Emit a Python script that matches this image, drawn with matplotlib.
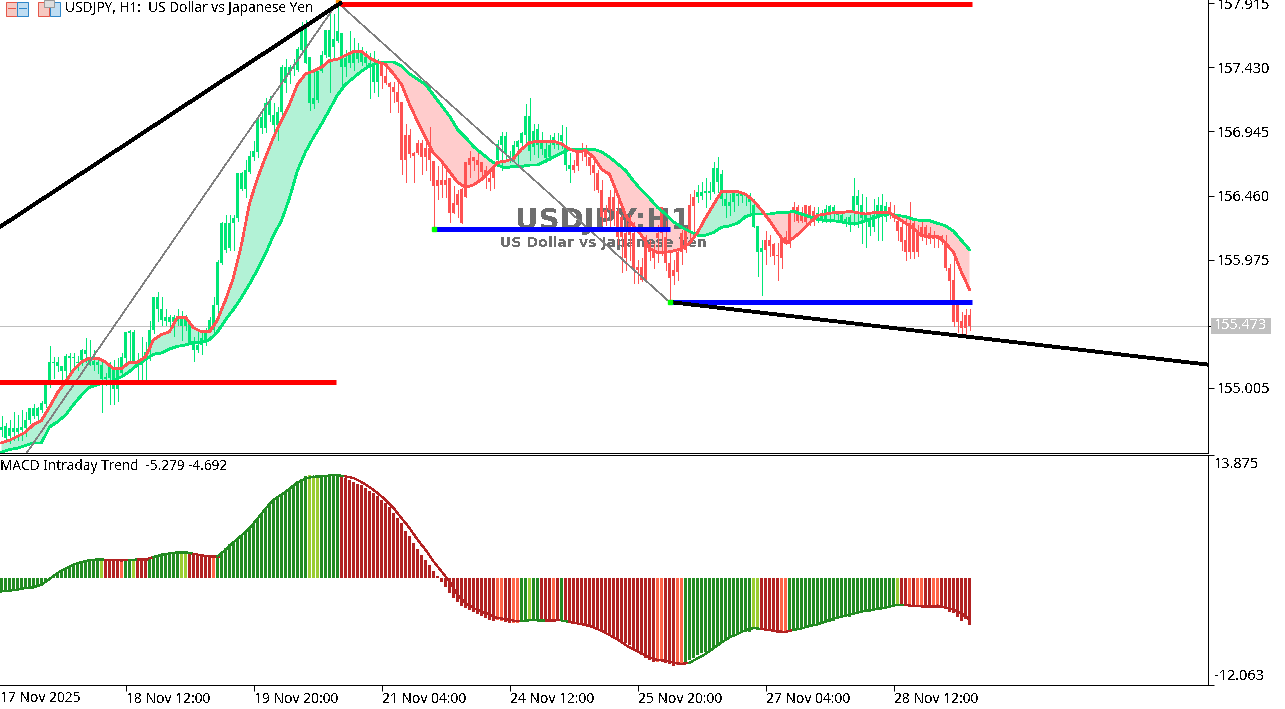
"""USDJPY H1 chart with MA cloud, zigzag levels and a MACD panel below."""

import matplotlib

matplotlib.use("Agg")

import matplotlib.pyplot as plt
import numpy as np
from matplotlib.patches import Rectangle

W_PX, H_PX = 1285, 709
AXIS_X = 1208
MAIN_BOTTOM = 452.5
SUB_TOP, SUB_BOTTOM = 455, 685

opens = [
    154.69, 154.63, 154.64, 154.67, 154.67, 154.69, 154.70, 154.76, 154.79, 154.79,
    154.84, 154.88, 155.04, 155.19, 155.17, 155.13, 155.13, 155.23, 155.23, 155.19,
    155.22, 155.26, 155.18, 155.18, 155.18, 155.07, 155.07, 155.08, 155.00, 155.00,
    155.12, 155.23, 155.42, 155.20, 155.18, 155.18, 155.23, 155.28, 155.44, 155.60,
    155.52, 155.51, 155.50, 155.50, 155.51, 155.47, 155.47, 155.35, 155.29, 155.29,
    155.33, 155.37, 155.44, 155.44, 155.63, 155.95, 156.05, 156.06, 156.25, 156.29,
    156.51, 156.51, 156.64, 156.75, 156.79, 156.97, 156.97, 157.07, 156.99, 156.99,
    157.09, 157.31, 157.37, 157.42, 157.41, 157.56, 157.46, 157.16, 157.15, 157.18,
    157.40, 157.52, 157.51, 157.58, 157.63, 157.43, 157.43, 157.46, 157.46, 157.49,
    157.47, 157.46, 157.43, 157.32, 157.32, 157.46, 157.36, 157.31, 157.28, 157.24,
    157.17, 156.92, 156.92, 156.78, 156.86, 156.86, 156.82, 156.82, 156.72, 156.58,
    156.58, 156.58, 156.59, 156.40, 156.47, 156.51, 156.71, 156.74, 156.75, 156.73,
    156.71, 156.65, 156.59, 156.67, 156.73, 156.84, 156.77, 156.75, 156.75, 156.83,
    156.86, 156.92, 156.80, 156.83, 156.84, 156.81, 156.74, 156.75, 156.84, 156.84,
    156.87, 156.69, 156.66, 156.69, 156.78, 156.80, 156.79, 156.75, 156.69, 156.63,
    156.50, 156.35, 156.45, 156.45, 156.34, 156.30, 156.18, 156.25, 156.18, 155.92,
    155.92, 156.15, 156.09, 156.05, 156.18, 156.37, 156.15, 155.95, 155.90, 156.03,
    156.18, 156.20, 156.39, 156.45, 156.45, 156.46, 156.48, 156.48, 156.49, 156.56,
    156.43, 156.38, 156.38, 156.41, 156.46, 156.46, 156.46, 156.41, 156.22, 156.03,
    156.03, 156.12, 156.12, 156.09, 156.01, 156.14, 156.15, 156.33, 156.37, 156.37,
    156.31, 156.39, 156.38, 156.34, 156.30, 156.27, 156.27, 156.33, 156.33, 156.31,
    156.27, 156.27, 156.26, 156.33, 156.39, 156.29, 156.26, 156.22, 156.22, 156.31,
    156.33, 156.30, 156.37, 156.33, 156.27, 156.22, 156.12, 156.25, 156.25, 156.19,
    156.22, 156.22, 156.18, 156.15, 156.16, 156.15, 156.10, 155.91, 155.82, 155.63,
    155.51, 155.56, 155.56,
]
closes = [
    154.71, 154.72, 154.70, 154.70, 154.70, 154.71, 154.76, 154.85, 154.85, 154.85,
    154.89, 155.03, 155.20, 155.20, 155.20, 155.17, 155.25, 155.25, 155.24, 155.20,
    155.29, 155.29, 155.22, 155.21, 155.20, 155.18, 155.09, 155.17, 155.15, 155.14,
    155.24, 155.43, 155.43, 155.43, 155.20, 155.20, 155.28, 155.44, 155.69, 155.69,
    155.60, 155.54, 155.54, 155.54, 155.54, 155.54, 155.54, 155.50, 155.35, 155.33,
    155.38, 155.42, 155.52, 155.63, 155.96, 156.25, 156.25, 156.25, 156.29, 156.63,
    156.63, 156.65, 156.76, 156.80, 157.04, 157.05, 157.16, 157.16, 157.07, 157.09,
    157.43, 157.43, 157.43, 157.43, 157.57, 157.71, 157.74, 157.51, 157.20, 157.40,
    157.52, 157.71, 157.71, 157.64, 157.70, 157.69, 157.50, 157.52, 157.55, 157.55,
    157.55, 157.51, 157.46, 157.46, 157.47, 157.36, 157.31, 157.28, 157.24, 157.17,
    156.73, 156.73, 156.77, 156.76, 156.78, 156.75, 156.75, 156.73, 156.53, 156.53,
    156.54, 156.54, 156.33, 156.33, 156.39, 156.25, 156.45, 156.69, 156.72, 156.69,
    156.64, 156.59, 156.56, 156.59, 156.85, 156.91, 156.91, 156.76, 156.84, 156.87,
    156.93, 157.06, 157.06, 156.95, 156.96, 156.87, 156.81, 156.84, 156.90, 156.87,
    156.92, 156.84, 156.69, 156.65, 156.68, 156.78, 156.75, 156.68, 156.63, 156.50,
    156.30, 156.29, 156.35, 156.34, 156.15, 156.15, 155.99, 156.16, 155.90, 155.90,
    155.82, 155.82, 156.03, 155.99, 156.14, 156.18, 155.95, 155.84, 155.85, 155.88,
    156.03, 156.05, 156.18, 156.38, 156.49, 156.49, 156.49, 156.49, 156.67, 156.67,
    156.62, 156.43, 156.41, 156.48, 156.47, 156.47, 156.47, 156.43, 156.39, 156.23,
    156.06, 156.05, 156.08, 156.00, 156.00, 155.99, 156.11, 156.09, 156.33, 156.27,
    156.27, 156.26, 156.29, 156.26, 156.33, 156.31, 156.36, 156.38, 156.37, 156.32,
    156.31, 156.28, 156.30, 156.46, 156.46, 156.39, 156.33, 156.27, 156.31, 156.39,
    156.39, 156.38, 156.31, 156.29, 156.19, 156.11, 156.03, 156.03, 156.03, 156.03,
    156.15, 156.14, 156.13, 156.13, 156.13, 156.14, 155.91, 155.81, 155.50, 155.50,
    155.46, 155.46, 155.47,
]
highs = [
    154.79, 154.74, 154.76, 154.82, 154.80, 154.84, 154.82, 154.85, 154.88, 154.86,
    154.91, 155.03, 155.32, 155.24, 155.24, 155.17, 155.26, 155.27, 155.27, 155.25,
    155.30, 155.38, 155.37, 155.29, 155.22, 155.20, 155.12, 155.20, 155.22, 155.23,
    155.27, 155.43, 155.44, 155.44, 155.27, 155.39, 155.35, 155.51, 155.69, 155.73,
    155.69, 155.60, 155.56, 155.56, 155.60, 155.59, 155.56, 155.50, 155.39, 155.44,
    155.44, 155.46, 155.54, 155.69, 155.97, 156.26, 156.31, 156.31, 156.31, 156.63,
    156.64, 156.73, 156.80, 156.87, 157.05, 157.11, 157.20, 157.21, 157.16, 157.13,
    157.45, 157.49, 157.45, 157.49, 157.58, 157.77, 157.79, 157.51, 157.40, 157.40,
    157.55, 157.71, 157.83, 157.83, 157.90, 157.69, 157.56, 157.70, 157.65, 157.61,
    157.58, 157.55, 157.54, 157.55, 157.49, 157.47, 157.43, 157.32, 157.32, 157.31,
    157.17, 157.00, 156.96, 156.79, 156.88, 156.88, 156.88, 156.98, 156.72, 156.68,
    156.71, 156.67, 156.59, 156.53, 156.50, 156.52, 156.71, 156.80, 156.75, 156.80,
    156.71, 156.68, 156.67, 156.71, 156.88, 156.94, 156.94, 156.80, 156.87, 156.88,
    156.94, 157.15, 157.20, 157.00, 157.00, 156.94, 156.88, 156.92, 156.93, 156.93,
    156.99, 156.98, 156.78, 156.73, 156.80, 156.86, 156.84, 156.77, 156.73, 156.65,
    156.58, 156.39, 156.50, 156.53, 156.47, 156.31, 156.31, 156.31, 156.26, 155.97,
    155.99, 156.16, 156.12, 156.09, 156.24, 156.37, 156.27, 156.05, 155.97, 156.05,
    156.20, 156.22, 156.47, 156.50, 156.54, 156.56, 156.59, 156.56, 156.71, 156.75,
    156.65, 156.49, 156.47, 156.49, 156.49, 156.48, 156.48, 156.48, 156.43, 156.23,
    156.12, 156.19, 156.16, 156.10, 156.10, 156.14, 156.19, 156.33, 156.41, 156.39,
    156.37, 156.39, 156.39, 156.37, 156.37, 156.35, 156.39, 156.39, 156.39, 156.34,
    156.34, 156.30, 156.31, 156.59, 156.50, 156.47, 156.45, 156.31, 156.43, 156.45,
    156.47, 156.41, 156.41, 156.39, 156.31, 156.27, 156.31, 156.41, 156.29, 156.24,
    156.27, 156.24, 156.22, 156.19, 156.16, 156.16, 156.16, 155.94, 155.99, 155.67,
    155.58, 155.60, 155.60,
]
lows = [
    154.64, 154.61, 154.59, 154.61, 154.61, 154.61, 154.64, 154.74, 154.78, 154.76,
    154.82, 154.86, 155.01, 155.08, 155.13, 155.04, 155.04, 155.12, 155.14, 155.14,
    155.18, 155.20, 155.18, 155.14, 155.12, 154.82, 155.03, 154.88, 154.88, 154.91,
    155.09, 155.20, 155.22, 155.19, 155.07, 155.07, 155.07, 155.22, 155.42, 155.51,
    155.48, 155.48, 155.47, 155.40, 155.48, 155.37, 155.44, 155.35, 155.21, 155.28,
    155.26, 155.33, 155.43, 155.43, 155.54, 155.94, 156.03, 156.05, 156.05, 156.27,
    156.50, 156.45, 156.63, 156.73, 156.75, 156.93, 156.94, 157.02, 156.95, 156.88,
    157.07, 157.24, 157.31, 157.37, 157.40, 157.55, 157.46, 157.11, 157.12, 157.17,
    157.39, 157.51, 157.24, 157.51, 157.62, 157.28, 157.36, 157.43, 157.41, 157.47,
    157.45, 157.43, 157.20, 157.24, 157.21, 157.27, 157.30, 157.09, 157.17, 157.09,
    156.62, 156.56, 156.75, 156.56, 156.77, 156.62, 156.65, 156.58, 156.22, 156.43,
    156.45, 156.45, 156.26, 156.33, 156.30, 156.25, 156.45, 156.60, 156.65, 156.58,
    156.58, 156.52, 156.50, 156.52, 156.71, 156.65, 156.73, 156.71, 156.71, 156.68,
    156.83, 156.86, 156.73, 156.77, 156.75, 156.77, 156.71, 156.73, 156.82, 156.81,
    156.82, 156.65, 156.56, 156.64, 156.65, 156.73, 156.69, 156.62, 156.50, 156.49,
    156.24, 156.24, 156.20, 156.24, 156.09, 155.88, 155.90, 155.97, 155.80, 155.80,
    155.81, 155.81, 155.97, 155.91, 155.96, 156.01, 155.90, 155.66, 155.79, 155.82,
    155.94, 156.03, 156.12, 156.14, 156.41, 156.43, 156.37, 156.43, 156.48, 156.49,
    156.39, 156.30, 156.31, 156.34, 156.39, 156.41, 156.39, 156.31, 156.22, 155.85,
    155.71, 155.94, 156.00, 155.94, 155.82, 155.91, 156.09, 156.07, 156.27, 156.26,
    156.26, 156.25, 156.24, 156.24, 156.26, 156.26, 156.26, 156.26, 156.29, 156.27,
    156.25, 156.23, 156.19, 156.24, 156.22, 156.10, 156.07, 156.16, 156.19, 156.12,
    156.12, 156.27, 156.29, 156.27, 156.12, 156.05, 155.97, 155.99, 155.99, 156.00,
    156.12, 156.09, 156.10, 156.07, 156.07, 156.09, 155.90, 155.67, 155.47, 155.43,
    155.41, 155.41, 155.44,
]

# moving averages, read every second bar
fast_ma = [
    154.59, 154.61, 154.64, 154.67, 154.73, 154.76, 154.86, 154.97, 155.05, 155.14,
    155.20, 155.23, 155.23, 155.20, 155.15, 155.15, 155.20, 155.20, 155.24, 155.37,
    155.41, 155.43, 155.54, 155.54, 155.46, 155.43, 155.43, 155.52, 155.67, 155.84,
    156.09, 156.40, 156.59, 156.75, 156.90, 157.03, 157.15, 157.30, 157.38, 157.40,
    157.43, 157.48, 157.49, 157.52, 157.55, 157.55, 157.50, 157.47, 157.45, 157.38,
    157.30, 157.15, 157.02, 156.90, 156.78, 156.72, 156.64, 156.56, 156.52, 156.54,
    156.58, 156.64, 156.71, 156.72, 156.74, 156.81, 156.86, 156.87, 156.87, 156.87,
    156.85, 156.81, 156.79, 156.80, 156.75, 156.66, 156.62, 156.47, 156.31, 156.23,
    156.16, 156.06, 156.03, 156.03, 156.04, 156.06, 156.10, 156.18, 156.29, 156.39,
    156.49, 156.49, 156.49, 156.47, 156.42, 156.35, 156.27, 156.18, 156.10, 156.14,
    156.19, 156.25, 156.31, 156.32, 156.33, 156.33, 156.34, 156.33, 156.32, 156.33,
    156.33, 156.33, 156.29, 156.25, 156.21, 156.16, 156.15, 156.15, 156.10, 156.03,
    155.88, 155.75,
]
slow_ma = [
    154.52, 154.54, 154.55, 154.57, 154.59, 154.59, 154.71, 154.75, 154.80, 154.88,
    154.95, 155.01, 155.03, 155.05, 155.06, 155.09, 155.13, 155.18, 155.22, 155.26,
    155.27, 155.30, 155.32, 155.33, 155.35, 155.35, 155.37, 155.43, 155.52, 155.60,
    155.69, 155.79, 155.90, 156.02, 156.16, 156.27, 156.44, 156.65, 156.79, 156.90,
    157.00, 157.11, 157.22, 157.30, 157.35, 157.40, 157.44, 157.46, 157.47, 157.47,
    157.44, 157.38, 157.34, 157.30, 157.22, 157.14, 157.06, 156.96, 156.90, 156.83,
    156.78, 156.73, 156.69, 156.67, 156.68, 156.68, 156.69, 156.69, 156.72, 156.75,
    156.78, 156.81, 156.81, 156.81, 156.81, 156.79, 156.75, 156.70, 156.65, 156.57,
    156.50, 156.44, 156.37, 156.32, 156.26, 156.22, 156.19, 156.16, 156.16, 156.18,
    156.22, 156.23, 156.25, 156.30, 156.32, 156.32, 156.32, 156.33, 156.33, 156.34,
    156.32, 156.30, 156.28, 156.27, 156.27, 156.26, 156.25, 156.25, 156.27, 156.29,
    156.31, 156.32, 156.31, 156.30, 156.28, 156.27, 156.27, 156.25, 156.23, 156.19,
    156.12, 156.05,
]

macd_hist = [
    -1.58, -1.58, -1.43, -1.43, -1.43, -1.35, -1.24, -1.20, -1.13, -1.05,
    -0.94, -0.57, -0.26, 0.37, 0.68, 0.94, 1.13, 1.31, 1.58, 1.69,
    1.88, 1.99, 2.10, 2.14, 2.14, 2.07, 1.99, 2.07, 1.99, 1.92,
    1.88, 1.99, 2.07, 2.18, 2.14, 2.10, 2.10, 2.25, 2.37, 2.52,
    2.63, 2.74, 2.82, 2.86, 2.89, 2.93, 2.74, 2.74, 2.71, 2.63,
    2.52, 2.45, 2.45, 2.25, 2.63, 2.93, 3.39, 3.87, 4.13, 4.51,
    4.88, 5.27, 5.75, 6.21, 6.76, 7.33, 7.89, 8.46, 8.95, 9.14,
    9.47, 9.77, 10.15, 10.52, 10.90, 11.20, 11.54, 11.65, 11.35, 11.39,
    11.57, 11.61, 11.65, 11.65, 11.61, 11.46, 11.28, 11.09, 10.83, 10.60,
    10.45, 10.15, 9.84, 9.58, 9.21, 8.83, 8.46, 7.96, 7.33, 6.76,
    6.21, 5.27, 4.70, 3.94, 3.31, 2.63, 2.07, 1.51, 0.83, 0.19,
    -0.45, -1.05, -1.69, -2.25, -2.71, -3.19, -3.39, -3.57, -3.83, -4.06,
    -4.33, -4.51, -4.77, -4.88, -4.77, -4.85, -4.92, -5.03, -5.03, -5.03,
    -4.85, -4.85, -4.74, -4.74, -4.74, -4.85, -4.85, -4.92, -4.74, -4.74,
    -4.66, -4.85, -5.00, -5.11, -5.23, -5.23, -5.23, -5.30, -5.49, -5.68,
    -5.94, -6.17, -6.32, -6.54, -6.80, -7.11, -7.37, -7.55, -7.93, -8.31,
    -8.68, -9.06, -9.25, -9.43, -9.43, -9.36, -9.55, -9.69, -9.89, -9.81,
    -9.81, -9.62, -9.25, -9.06, -8.68, -8.49, -8.31, -8.12, -7.93, -7.55,
    -7.29, -6.99, -6.80, -6.62, -6.43, -6.24, -6.13, -6.05, -5.75, -5.60,
    -5.68, -5.75, -5.86, -6.05, -6.17, -6.17, -6.05, -5.97, -5.86, -5.75,
    -5.68, -5.60, -5.49, -5.38, -5.30, -5.19, -5.11, -4.92, -4.81, -4.66,
    -4.55, -4.44, -4.36, -4.17, -4.06, -3.98, -3.87, -3.80, -3.68, -3.61,
    -3.50, -3.42, -3.35, -3.23, -3.04, -3.04, -3.12, -3.15, -3.31, -3.23,
    -3.23, -3.23, -3.23, -3.15, -3.15, -3.35, -3.54, -3.80, -3.98, -4.36,
    -4.85, -4.66, -5.28,
]
# signal line, read every second bar
macd_signal = [
    -1.51, -1.43, -1.31, -1.13, -1.05, -0.75, -0.11, 0.57, 1.05, 1.51,
    1.80, 2.03, 2.10, 2.07, 2.03, 1.99, 2.03, 2.10, 2.10, 2.37,
    2.63, 2.78, 2.89, 2.89, 2.74, 2.56, 2.45, 2.45, 3.19, 4.02,
    4.81, 5.64, 6.69, 7.82, 8.83, 9.40, 10.08, 10.78, 11.20, 11.43,
    11.46, 11.57, 11.61, 11.46, 11.28, 10.83, 10.26, 9.58, 8.83, 7.89,
    6.76, 5.64, 4.33, 3.19, 1.88, 0.75, -0.37, -1.88, -2.82, -3.39,
    -3.76, -4.13, -4.51, -4.62, -4.81, -4.85, -4.77, -4.74, -4.74, -4.74,
    -4.77, -4.96, -5.11, -5.30, -5.56, -5.94, -6.43, -6.91, -7.55, -8.05,
    -8.49, -8.95, -9.25, -9.32, -9.55, -9.69, -9.55, -9.06, -8.57, -7.93,
    -7.26, -6.69, -6.32, -5.86, -5.64, -5.75, -5.86, -6.01, -6.08, -5.86,
    -5.68, -5.41, -5.23, -4.92, -4.55, -4.36, -4.09, -3.87, -3.68, -3.54,
    -3.42, -3.23, -3.01, -3.04, -3.15, -3.12, -3.12, -3.12, -3.31, -3.54,
    -3.98, -4.69,
]
# runs of histogram colour: g rising, l rising weak, r falling, o falling weak
hist_runs = [
    ("g", 25), ("l", 1), ("r", 4), ("o", 1), ("g", 2), ("l", 1), ("r", 3), ("g", 8),
    ("l", 2), ("r", 6), ("o", 1), ("g", 23), ("l", 3), ("g", 5), ("r", 39), ("o", 2),
    ("r", 2), ("o", 2), ("g", 2), ("l", 1), ("g", 2), ("r", 3), ("o", 1), ("r", 1),
    ("g", 1), ("r", 23), ("o", 2), ("r", 3), ("o", 2), ("g", 17), ("l", 2), ("r", 5),
    ("o", 2), ("g", 27), ("l", 1), ("r", 2), ("o", 1), ("r", 1), ("o", 2), ("r", 2),
    ("o", 2), ("r", 8),
]

price_ticks = [157.915, 157.430, 156.945, 156.460, 155.975, 155.005]
last_price = 155.473
macd_top, macd_bottom = 13.875, -12.063
time_ticks = [31, 63, 95, 127, 159, 191, 223]
time_labels = ["18 Nov 12:00", "19 Nov 20:00", "21 Nov 04:00", "24 Nov 12:00",
               "25 Nov 20:00", "27 Nov 04:00", "28 Nov 12:00"]

# objects on the chart: (bar, price) ends
zigzag_bars = [3, 84, 167]
zigzag_prices = [154.37, 157.92, 155.655]
trend_up_bars, trend_up_prices = [-1, 85], [156.21, 157.92]
trend_down_bars, trend_down_prices = [167, 302], [155.655, 155.18]
red_levels = [(-1, 83.5, 155.05), (84.5, 242.5, 157.91)]
blue_levels = [(108, 167, 156.205), (167, 242.5, 155.655)]

BULL = "#00E676"
BEAR = "#FF5252"
BULL_FILL = "#B2F2D6"
BEAR_FILL = "#FFCCCC"
HIST_COLORS = {"g": "forestgreen", "l": "yellowgreen", "r": "firebrick", "o": "tomato"}
SIGNAL_COLORS = {"g": "forestgreen", "l": "forestgreen", "r": "firebrick", "o": "firebrick"}
TEXT_FONT = ["Noto Sans", "DejaVu Sans"]
LABEL_SIZE = 10.0

plt.rcParams["font.family"] = TEXT_FONT
plt.rcParams["text.antialiased"] = False
PX = 72 / 100  # one pixel in points


def fig_rect(fig, x0, y0, x1, y1, **kw):
    """Rectangle outside the data area (icons, price tag), in picture pixels."""
    fig.add_artist(Rectangle((x0 / W_PX, 1 - y1 / H_PX), (x1 - x0) / W_PX, (y1 - y0) / H_PX,
                             transform=fig.transFigure, **kw))


def fig_label(fig, x, y, s, **kw):
    """Text placed in picture pixels."""
    fig.text(x / W_PX, 1 - y / H_PX, s, ha="left", va="center", **kw)


fig = plt.figure(figsize=(W_PX / 100, H_PX / 100), dpi=100, facecolor="white")
ax = fig.add_axes([0, 1 - MAIN_BOTTOM / H_PX, AXIS_X / W_PX, MAIN_BOTTOM / H_PX])
sub = fig.add_axes([0, 1 - SUB_BOTTOM / H_PX, AXIS_X / W_PX, (SUB_BOTTOM - SUB_TOP) / H_PX])

xlim = (-0.375, -0.375 + AXIS_X / 4)
bars = np.arange(len(opens))
ma_bars = bars[::2]
o, c, h, l = map(np.array, (opens, closes, highs, lows))
up = c >= o
candle_colors = np.where(up, BULL, BEAR)

# --- price panel ---
ax.set_xlim(xlim)
ax.set_ylim(157.938 - MAIN_BOTTOM * 0.00756, 157.938)

fast = np.array(fast_ma)
slow = np.array(slow_ma)
ax.fill_between(ma_bars, fast, slow, where=fast >= slow, interpolate=True, color=BULL_FILL, lw=0, zorder=1)
ax.fill_between(ma_bars, fast, slow, where=fast <= slow, interpolate=True, color=BEAR_FILL, lw=0, zorder=1)

# symbol watermark sits over the cloud but under the candles
ax.text(150.5, 156.27, "USDJPY:H1", fontsize=21, fontweight="bold", color="#6E6E6E",
        ha="center", va="center", family="DejaVu Sans", zorder=2)
ax.text(150.5, 156.10, "US Dollar vs Japanese Yen", fontsize=10.2, fontweight="bold",
        color="#6E6E6E", ha="center", va="center", family="DejaVu Sans", zorder=2)

ax.axhline(last_price, color="#C0C0C0", lw=PX, zorder=2.5)

ax.vlines(bars, l, h, colors=candle_colors, lw=PX, zorder=3, antialiased=False)
body_low = np.minimum(o, c)
body_h = np.maximum(np.abs(c - o), 0.012)
ax.bar(bars, body_h, bottom=body_low, width=0.8, color=candle_colors, lw=0, zorder=3, antialiased=False)

ax.plot(ma_bars, slow, color=BULL, lw=1.7 * PX, zorder=4, antialiased=False)
ax.plot(ma_bars, fast, color=BEAR, lw=1.7 * PX, zorder=4.1, antialiased=False)

ax.plot(zigzag_bars, zigzag_prices, color="#808080", lw=0.5 * PX, zorder=5, antialiased=False)
for x0, x1, level in red_levels:
    ax.plot([x0, x1], [level, level], color="#FF0000", lw=5 * PX, solid_capstyle="butt", zorder=6)
for x0, x1, level in blue_levels:
    ax.plot([x0, x1], [level, level], color="#0000FF", lw=5 * PX, solid_capstyle="butt", zorder=6)
ax.plot(trend_up_bars, trend_up_prices, color="black", lw=2.8 * PX, solid_capstyle="butt", zorder=7, antialiased=False)
ax.plot(trend_down_bars, trend_down_prices, color="black", lw=2.8 * PX, solid_capstyle="butt", zorder=7, antialiased=False)
ax.plot([108, 167], [156.205, 155.655], ls="none", marker="s", ms=4 * PX, color="#00FF00", zorder=8)
ax.plot([84], [157.92], ls="none", marker="s", ms=4 * PX, color="#FF8C00", zorder=5.5)

# --- MACD panel ---
sub.set_xlim(xlim)
sub.set_ylim(macd_bottom, macd_top)
kinds = [k for k, n in hist_runs for _ in range(n)]
sub.bar(bars, macd_hist, width=0.75, color=[HIST_COLORS[k] for k in kinds], lw=0, antialiased=False, zorder=2)
for k in range(len(macd_signal) - 1):
    sub.plot(ma_bars[k:k + 2], macd_signal[k:k + 2], color=SIGNAL_COLORS[kinds[ma_bars[k]]],
             lw=1.2 * PX, solid_capstyle="projecting", zorder=3, antialiased=False)

# --- axes dressing ---
for a in (ax, sub):
    a.spines["left"].set_visible(False)
    for side in ("top", "right", "bottom"):
        a.spines[side].set_linewidth(PX)
        a.spines[side].set_color("black")
    a.yaxis.tick_right()
    a.tick_params(axis="y", length=4, width=PX, pad=2, labelsize=10.4, colors="black")
ax.spines["top"].set_visible(False)
ax.set_xticks([])

ax.set_yticks(price_ticks + [last_price])
ax.set_yticklabels([f"{p:.3f}" for p in price_ticks] + [""])
fig_rect(fig, 1211, 318, 1271, 334, fc="#C0C0C0", ec="none", zorder=9)
fig_label(fig, 1214, 326, f"{last_price:.3f}", color="white", fontsize=10.4, zorder=10)

sub.set_yticks([macd_top, macd_bottom])
sub.set_yticklabels(["", ""])
fig_label(fig, 1214, 464, f"{macd_top:.3f}", fontsize=10.4)
fig_label(fig, 1214, 677, f"{macd_bottom:.3f}", fontsize=10.4)

sub.set_xticks(time_ticks)
sub.set_xticklabels(time_labels, ha="left", fontsize=LABEL_SIZE)
sub.tick_params(axis="x", length=4, width=PX, pad=1)
fig_label(fig, 0, 698, "17 Nov 2025", fontsize=LABEL_SIZE)

# --- header ---
fig_label(fig, 65, 8.5, "USDJPY, H1:  US Dollar vs Japanese Yen", fontsize=LABEL_SIZE - 0.2)
fig_label(fig, 0, 467, "MACD Intraday Trend  -5.279 -4.692", fontsize=LABEL_SIZE - 0.2)

fig_rect(fig, 6, 2, 16.5, 16, fc="#F6C9C2", ec="#E5574A", lw=PX)
fig_rect(fig, 17, 2, 28, 16, fc="#BFDDF2", ec="#2E86C8", lw=PX)
fig_rect(fig, 7.5, 7.5, 15.5, 9, fc="#E5574A", lw=0)
fig_rect(fig, 18.5, 7.5, 27, 9, fc="#2E86C8", lw=0)
fig_rect(fig, 38, 2, 48.5, 16, fc="#F6C9C2", ec="#E5574A", lw=PX)
fig_rect(fig, 49.5, 2, 60, 16, fc="#BFDDF2", ec="#2E86C8", lw=PX)
fig_rect(fig, 44, 0, 54, 7, fc="#DDDDDD", ec="#999999", lw=PX)

fig.savefig("out.png", dpi=100, facecolor="white")
